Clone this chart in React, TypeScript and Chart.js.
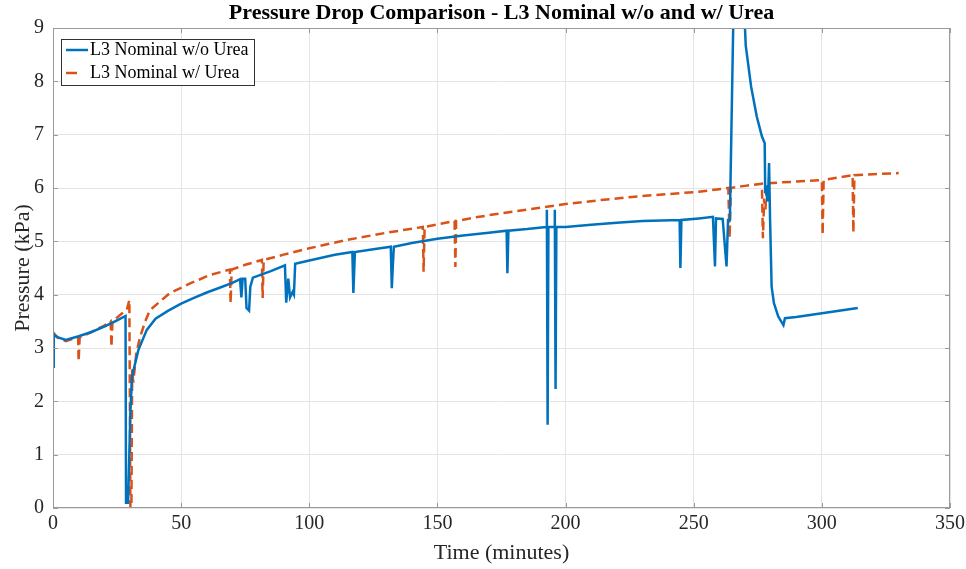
import React, { useEffect, useRef } from "react";
import { Chart, registerables } from "chart.js";

Chart.register(...registerables);

const TITLE = "Pressure Drop Comparison - L3 Nominal w/o and w/ Urea";
const X_LABEL = "Time (minutes)";
const Y_LABEL = "Pressure (kPa)";
const SERIES_NAMES = ["L3 Nominal w/o Urea", "L3 Nominal w/ Urea"];
const SERIES_COLORS = ["#0072BD", "#D95319"];
const X_TICKS = [0, 50, 100, 150, 200, 250, 300, 350];
const Y_TICKS = [0, 1, 2, 3, 4, 5, 6, 7, 8, 9];

// Series 1: without urea
const noUreaTime = [
  0, 0.3, 2, 5, 10, 15, 20, 25, 28.3, 28.5, 29.3, 30.2, 30.8, 31.6, 33.3, 36.6, 40, 45, 50, 55,
  60, 65, 70, 73, 73.5, 74, 75, 75.5, 76.5, 77, 78, 85, 90.5, 91, 91.8, 92.5, 93.5, 94, 94.5, 100,
  110, 116.8, 117.2, 117.8, 125, 131.8, 132.2, 132.6, 133, 140, 150, 160, 170, 177, 177.3, 177.7, 185, 192.5, 192.7, 193.0,
  193.3, 195.5, 195.8, 196.1, 196.4, 200, 210, 220, 230, 244.5, 244.8, 245.2, 252, 257.5, 258.3, 258.7, 261.3, 262.8, 263.4, 264.1,
  265.4, 265.8, 269.8, 270, 270.3, 272.4, 274.6, 276.6, 277.7, 277.9, 278.3, 278.7, 279.1, 279.4, 279.8, 280.4, 281.3, 283, 285, 285.6,
  290, 295.4, 314,
];
const noUreaKPa = [
  2.65, 3.25, 3.2, 3.15, 3.22, 3.3, 3.4, 3.52, 3.6, 0.1, 0.1, 1.8, 2.45, 2.62, 2.96, 3.34, 3.55, 3.7, 3.83, 3.94,
  4.04, 4.13, 4.22, 4.29, 3.95, 4.3, 4.3, 3.75, 3.7, 4.15, 4.32, 4.44, 4.55, 3.85, 4.3, 3.95, 4.05, 4.0, 4.58, 4.64,
  4.75, 4.8, 4.03, 4.8, 4.85, 4.9, 4.12, 4.55, 4.9, 4.97, 5.05, 5.11, 5.16, 5.2, 4.4, 5.2, 5.23, 5.27, 5.59, 1.56,
  5.27, 5.27, 5.59, 2.23, 5.27, 5.27, 5.31, 5.35, 5.38, 5.4, 4.5, 5.4, 5.43, 5.46, 4.53, 5.43, 5.42, 4.53, 5.4, 5.4,
  9.0, 10.5, 10.5, 9.0, 8.67, 7.9, 7.34, 6.97, 6.84, 5.9, 6.05, 5.75, 5.95, 6.47, 5.4, 4.15, 3.84, 3.59, 3.43, 3.56,
  3.58, 3.62, 3.75,
];

// Series 2: with urea
const ureaTime = [
  0, 1.5, 5, 9.8, 10, 10.4, 15, 20, 22.5, 22.8, 23.2, 27, 28.8, 29.8, 30.2, 30.6, 30.9, 31.3, 32.5, 34,
  36, 37.8, 41.7, 45.6, 53.5, 61.3, 69, 69.3, 69.7, 75, 81.5, 81.8, 82.2, 90, 100, 115, 130, 144.3, 144.6,
  145, 156.7, 157, 157.3, 165, 174, 190, 200, 215, 230, 252, 263.5, 264, 264.5, 270, 276.6, 277, 277.5, 278, 278.5,
  290, 300, 300.3, 300.7, 312, 312.3, 312.7, 320, 330,
];
const ureaKPa = [
  3.3, 3.2, 3.13, 3.2, 2.75, 3.2, 3.3, 3.42, 3.5, 3.02, 3.5, 3.65, 3.72, 3.9, 0, 0, 2.6, 2.35, 2.9, 3.21,
  3.5, 3.71, 3.87, 4.03, 4.21, 4.37, 4.47, 3.84, 4.47, 4.56, 4.65, 3.94, 4.65, 4.75, 4.87, 5.03, 5.16, 5.27, 4.43,
  5.27, 5.38, 4.52, 5.38, 5.45, 5.52, 5.63, 5.7, 5.78, 5.85, 5.93, 6.0, 5.06, 6.0, 6.04, 6.08, 5.06, 5.8, 5.6, 6.09,
  6.12, 6.15, 5.12, 6.15, 6.24, 5.16, 6.24, 6.26, 6.28,
];

const FONT = "'Liberation Serif', 'Times New Roman', serif";
const TEXT = "#262626";
const AXIS = "#9a9a9a";

const decorPlugin = {
  id: "decor",
  afterDraw(chart: any) {
    const ctx = chart.ctx;
    const a = chart.chartArea;
    const xs = chart.scales.x;
    const ys = chart.scales.y;
    ctx.save();
    // axes box
    ctx.strokeStyle = AXIS;
    ctx.lineWidth = 1;
    ctx.strokeRect(a.left + 0.5, a.top + 0.5, a.right - a.left - 1, a.bottom - a.top - 1);
    // inward ticks
    ctx.beginPath();
    X_TICKS.forEach((t) => {
      const px = Math.round(xs.getPixelForValue(t)) + 0.5;
      ctx.moveTo(px, a.bottom);
      ctx.lineTo(px, a.bottom - 5);
      ctx.moveTo(px, a.top);
      ctx.lineTo(px, a.top + 5);
    });
    Y_TICKS.forEach((t) => {
      const py = Math.round(ys.getPixelForValue(t)) + 0.5;
      ctx.moveTo(a.left, py);
      ctx.lineTo(a.left + 5, py);
      ctx.moveTo(a.right, py);
      ctx.lineTo(a.right - 5, py);
    });
    ctx.stroke();

    // title
    ctx.fillStyle = "#000";
    ctx.font = `bold 22px ${FONT}`;
    ctx.textAlign = "center";
    ctx.textBaseline = "middle";
    ctx.fillText(TITLE, (a.left + a.right) / 2, 13);

    // legend
    const lx = 61, ly = 39, lw = 193, lh = 46;
    ctx.fillStyle = "#fff";
    ctx.fillRect(lx, ly, lw, lh);
    ctx.strokeStyle = "#333";
    ctx.lineWidth = 1;
    ctx.strokeRect(lx + 0.5, ly + 0.5, lw, lh);
    const rows = [ly + 11, ly + 34];
    SERIES_NAMES.forEach((name, i) => {
      const y = rows[i];
      ctx.strokeStyle = SERIES_COLORS[i];
      ctx.lineWidth = 2.5;
      ctx.beginPath();
      ctx.moveTo(66, y);
      ctx.lineTo(i === 1 ? 77 : 88, y);
      ctx.stroke();
      ctx.fillStyle = "#000";
      ctx.font = `18px ${FONT}`;
      ctx.textAlign = "left";
      ctx.textBaseline = "middle";
      ctx.fillText(name, 90, y);
    });
    ctx.restore();
  },
};

export default function App() {
  const ref = useRef<HTMLCanvasElement | null>(null);

  useEffect(() => {
    document.body.style.margin = "0";
    const canvas = ref.current;
    if (!canvas) return;
    const toPts = (xs: number[], ys: number[]) => xs.map((x, i) => ({ x, y: ys[i] }));
    const chart = new Chart(canvas, {
      type: "line",
      data: {
        datasets: [
          {
            label: SERIES_NAMES[0],
            data: toPts(noUreaTime, noUreaKPa),
            borderColor: SERIES_COLORS[0],
            backgroundColor: SERIES_COLORS[0],
            borderWidth: 2.5,
            pointRadius: 0,
            tension: 0,
            fill: false,
          },
          {
            label: SERIES_NAMES[1],
            data: toPts(ureaTime, ureaKPa),
            borderColor: SERIES_COLORS[1],
            backgroundColor: SERIES_COLORS[1],
            borderWidth: 2.5,
            borderDash: [9, 5],
            pointRadius: 0,
            tension: 0,
            fill: false,
          },
        ],
      },
      options: {
        responsive: false,
        animation: false,
        events: [],
        layout: { padding: { top: 28, right: 16, left: 0, bottom: 0 } },
        plugins: {
          legend: { display: false },
          title: { display: false },
          tooltip: { enabled: false },
        },
        scales: {
          x: {
            type: "linear",
            min: 0,
            max: 350,
            afterFit: (s: any) => {
              s.height = 61;
              s.paddingLeft = 0;
              s.paddingRight = 0;
            },
            afterBuildTicks: (s: any) => {
              s.ticks = X_TICKS.map((v) => ({ value: v }));
            },
            grid: { color: "#e4e4e4", drawTicks: false },
            border: { display: false },
            ticks: {
              padding: 4,
              color: TEXT,
              font: { family: FONT, size: 20 },
              maxRotation: 0,
            },
            title: {
              display: true,
              text: X_LABEL,
              color: TEXT,
              font: { family: FONT, size: 22 },
              padding: { top: 0, bottom: 3 },
            },
          },
          y: {
            type: "linear",
            min: 0,
            max: 9,
            afterFit: (s: any) => {
              s.width = 53;
              s.paddingTop = 0;
              s.paddingBottom = 0;
            },
            afterBuildTicks: (s: any) => {
              s.ticks = Y_TICKS.map((v) => ({ value: v }));
            },
            grid: { color: "#e4e4e4", drawTicks: false },
            border: { display: false },
            ticks: {
              padding: 9,
              color: TEXT,
              font: { family: FONT, size: 20 },
            },
            title: {
              display: true,
              text: Y_LABEL,
              color: TEXT,
              font: { family: FONT, size: 22 },
              padding: { top: 10, bottom: 0 },
            },
          },
        },
      },
      plugins: [decorPlugin],
    });
    return () => chart.destroy();
  }, []);

  return (
    <div style={{ width: 966, height: 569, background: "#fff" }}>
      <canvas ref={ref} width={966} height={569} style={{ display: "block" }} />
    </div>
  );
}
